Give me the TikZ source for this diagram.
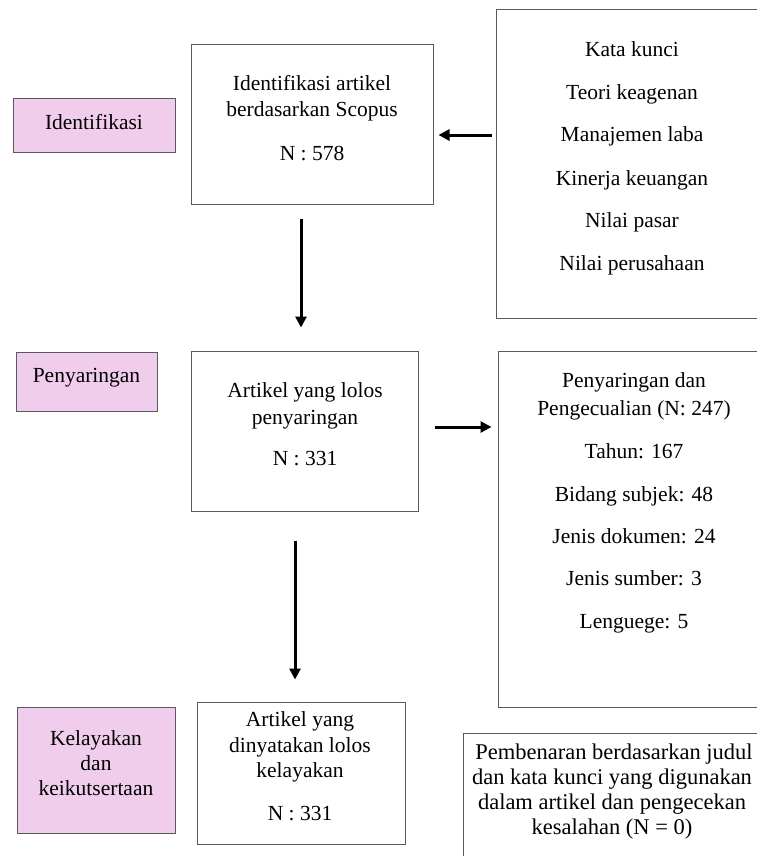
\documentclass[tikz,border=0pt]{standalone}
\usepackage{fontspec}
\setmainfont{Liberation Serif}
\usetikzlibrary{arrows.meta}
\definecolor{pinkfill}{HTML}{F0CDEC}
\definecolor{edgegray}{HTML}{5A5A5A}
\begin{document}
\begin{tikzpicture}[x=1pt,y=-1pt,
  box/.style={draw=edgegray, line width=1pt, rectangle, inner sep=0pt},
  stage/.style={box, fill=pinkfill},
  txt/.style={anchor=base, inner sep=0pt, font=\fontsize{21.5}{25}\selectfont},
  wtxt/.style={txt, font=\fontsize{22.5}{25}\selectfont},
  arr/.style={line width=3pt, -{Triangle[length=11pt,width=11pt]}}]
\useasboundingbox (0,0) rectangle (757,856);
\clip (0,0) rectangle (757,856);
% boxes
\node[stage, minimum width=162pt, minimum height=53pt] (s1) at (94,125.5) {};
\node[box, minimum width=242pt, minimum height=159pt] (b1) at (312,124.5) {};
\node[box, minimum width=274pt, minimum height=308pt] (r1) at (633,164) {};
\node[stage, minimum width=141pt, minimum height=59pt] (s2) at (86.5,381.5) {};
\node[box, minimum width=227pt, minimum height=160pt] (b2) at (304.5,431) {};
\node[box, minimum width=272pt, minimum height=356pt] (r2) at (634,529) {};
\node[stage, minimum width=158pt, minimum height=126pt] (s3) at (96,770) {};
\node[box, minimum width=208pt, minimum height=142pt] (b3) at (301,773) {};
\node[box, minimum width=307pt, minimum height=137pt] (r3) at (616.5,801.5) {};
% texts
\node[txt] (s1t) at (94,129) {Identifikasi};
\node[txt] (b1a) at (312,91) {Identifikasi artikel};
\node[txt] (b1b) at (312,117) {berdasarkan Scopus};
\node[txt] (b1c) at (312,160) {N : 578};
\node[txt] (r1a) at (632,57) {Kata kunci};
\node[txt] (r1b) at (632,99.5) {Teori keagenan};
\node[txt] (r1c) at (632,142) {Manajemen laba};
\node[txt] (r1d) at (632,185) {Kinerja keuangan};
\node[txt] (r1e) at (632,227.5) {Nilai pasar};
\node[txt] (r1f) at (632,270) {Nilai perusahaan};
\node[txt] (s2t) at (86.5,382) {Penyaringan};
\node[txt] (b2a) at (305,397) {Artikel yang lolos};
\node[txt] (b2b) at (305,424) {penyaringan};
\node[txt] (b2c) at (305,465) {N : 331};
\node[txt] (r2a) at (634,387) {Penyaringan dan};
\node[txt] (r2b) at (634,415) {Pengecualian (N: 247)};
\node[txt] (r2c) at (634,458) {Tahun: 167};
\node[txt] (r2d) at (634,501) {Bidang subjek: 48};
\node[txt] (r2e) at (634,543) {Jenis dokumen: 24};
\node[txt] (r2f) at (634,585) {Jenis sumber: 3};
\node[txt] (r2g) at (634,628) {Lenguege: 5};
\node[txt] (s3a) at (96,745) {Kelayakan};
\node[txt] (s3b) at (96,770) {dan};
\node[txt] (s3c) at (96,795) {keikutsertaan};
\node[txt] (b3a) at (300,726) {Artikel yang};
\node[txt] (b3b) at (300,752) {dinyatakan lolos};
\node[txt] (b3c) at (300,777) {kelayakan};
\node[txt] (b3d) at (300,820) {N : 331};
\node[wtxt] (r3a) at (614,759) {Pembenaran berdasarkan judul};
\node[wtxt] (r3b) at (612,784) {dan kata kunci yang digunakan};
\node[wtxt] (r3c) at (612,809) {dalam artikel dan pengecekan};
\node[wtxt] (r3d) at (612,834) {kesalahan (N = 0)};
% arrow guides
\coordinate (ya) at (0,135);
\coordinate (xa) at (301,0);
\coordinate (yb) at (0,427);
\coordinate (xb) at (295,0);
% arrows
\draw[arr, shorten <=4pt, shorten >=5pt] (r1.west |- ya) -- (b1.east |- ya);
\draw[arr, shorten <=14pt, shorten >=23pt] (b1.south -| xa) -- (b2.north -| xa);
\draw[arr, shorten <=16pt, shorten >=6pt] (b2.east |- yb) -- (r2.west |- yb);
\draw[arr, shorten <=29pt, shorten >=22pt] (b2.south -| xb) -- (b3.north -| xb);
\end{tikzpicture}
\end{document}
